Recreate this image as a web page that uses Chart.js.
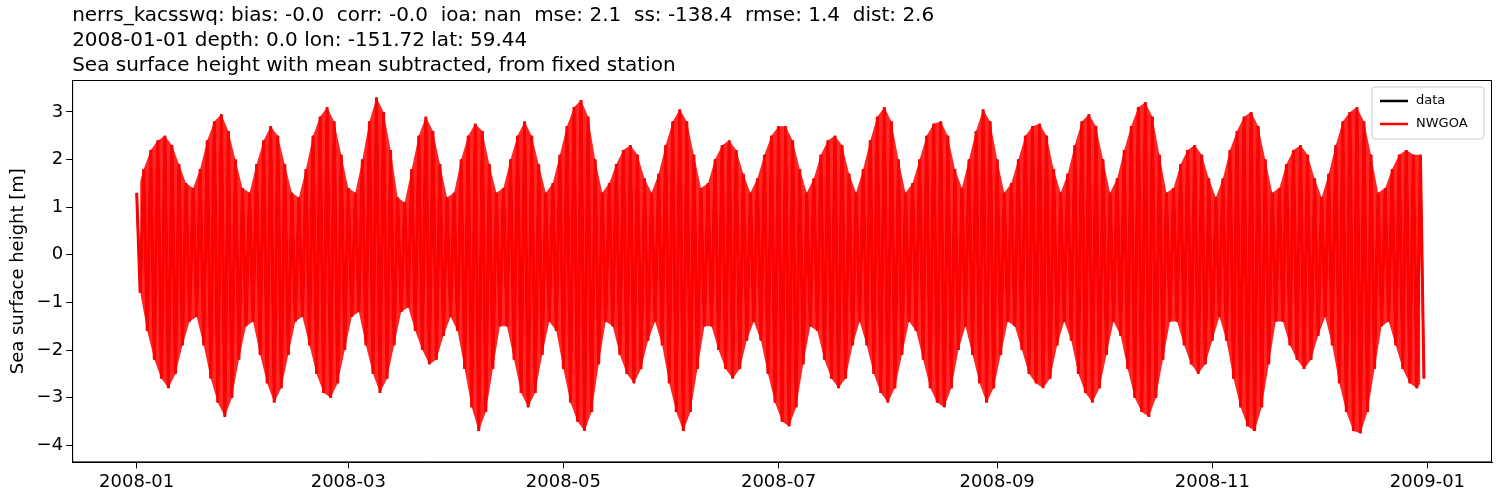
<!DOCTYPE html>
<html><head><meta charset="utf-8">
<script src="https://cdn.jsdelivr.net/npm/chart.js@4"></script>
<style>html,body{margin:0;padding:0;background:#fff}#w{width:1500px;height:500px}</style>
</head><body><div id="w"><canvas id="c"></canvas></div>
<script>
// Daily tidal extremes: highs on even days (0,2,4,...), lows on odd days (1,3,5,...), 2008 day-of-year
const highs = [1.3,1.8,2.2,2.4,2.5,
2.3,1.9,1.5,1.4,1.8,2.4,2.8,2.95,
2.6,2.0,1.4,1.3,1.9,2.4,2.7,
2.5,1.9,1.3,1.2,1.8,2.5,2.9,3.1,
2.8,2.1,1.4,1.3,2.0,2.8,3.3,
3.0,2.2,1.2,1.1,1.8,2.5,2.9,
2.6,1.9,1.2,1.3,2.0,2.5,2.75,
2.6,1.9,1.3,1.4,2.0,2.5,2.8,
2.5,1.9,1.3,1.5,2.1,2.7,3.1,3.25,
2.9,2.0,1.3,1.5,1.9,2.2,2.3,
2.1,1.6,1.3,1.7,2.3,2.8,3.05,
2.8,2.1,1.4,1.5,2.0,2.3,2.4,
2.2,1.7,1.3,1.6,2.1,2.5,2.7,2.7,
2.4,1.8,1.3,1.6,2.1,2.4,2.5,
2.3,1.7,1.3,1.8,2.4,2.9,3.1,
2.8,2.0,1.3,1.5,2.0,2.5,2.75,2.8,
2.5,1.8,1.4,2.0,2.6,3.05,
2.8,2.0,1.3,1.5,2.0,2.5,2.7,2.75,
2.5,1.8,1.3,1.7,2.3,2.8,2.95,
2.7,2.0,1.3,1.6,2.2,2.7,3.1,3.2,
2.9,2.1,1.3,1.4,1.9,2.2,2.3,
2.1,1.6,1.2,1.6,2.2,2.6,2.9,3.0,
2.7,2.0,1.3,1.4,1.9,2.2,2.3,
2.1,1.6,1.2,1.7,2.3,2.8,3.0,3.1,
2.8,2.1,1.3,1.4,1.8,2.1,2.2,2.1,2.1];
const lows = [-0.8,-1.6,-2.2,-2.6,-2.8,
-2.5,-1.9,-1.4,-1.3,-1.9,-2.6,-3.1,-3.4,
-3.0,-2.2,-1.5,-1.4,-2.1,-2.7,-3.1,
-2.8,-2.1,-1.4,-1.3,-1.9,-2.5,-2.9,-3.0,
-2.7,-2.0,-1.3,-1.2,-1.9,-2.5,-2.9,
-2.6,-1.9,-1.2,-1.1,-1.6,-2.0,-2.3,
-2.2,-1.7,-1.3,-1.6,-2.4,-3.2,-3.7,
-3.3,-2.4,-1.5,-1.5,-2.2,-2.9,-3.2,
-2.9,-2.1,-1.4,-1.6,-2.4,-3.1,-3.5,-3.7,
-3.3,-2.3,-1.4,-1.5,-2.1,-2.5,-2.7,
-2.4,-1.8,-1.4,-1.9,-2.7,-3.3,-3.7,
-3.3,-2.4,-1.5,-1.5,-2.0,-2.4,-2.6,
-2.4,-1.8,-1.4,-1.8,-2.5,-3.1,-3.5,-3.6,
-3.2,-2.3,-1.5,-1.6,-2.2,-2.6,-2.8,
-2.6,-1.9,-1.4,-1.9,-2.5,-2.9,-3.1,
-2.8,-2.1,-1.4,-1.6,-2.2,-2.8,-3.1,-3.2,
-2.8,-2.0,-1.5,-2.1,-2.7,-3.1,
-2.8,-2.1,-1.4,-1.5,-2.0,-2.5,-2.7,-2.8,
-2.6,-1.9,-1.4,-1.8,-2.5,-2.9,-3.1,
-2.8,-2.1,-1.4,-1.7,-2.4,-3.0,-3.3,-3.4,
-3.0,-2.2,-1.4,-1.4,-1.9,-2.3,-2.5,
-2.3,-1.8,-1.3,-1.8,-2.6,-3.2,-3.6,-3.7,
-3.2,-2.3,-1.4,-1.4,-1.9,-2.2,-2.4,
-2.2,-1.7,-1.3,-1.9,-2.7,-3.3,-3.7,-3.75,
-3.3,-2.4,-1.5,-1.4,-1.9,-2.4,-2.7,-2.8,-2.6];
const tickDays = [0,60,121,182,244,305,366];
const tickLabels = ['2008-01','2008-03','2008-05','2008-07','2008-09','2008-11','2009-01'];
const yTicks = [-4,-3,-2,-1,0,1,2,3];
const titleLines = ['nerrs_kacsswq: bias: -0.0  corr: -0.0  ioa: nan  mse: 2.1  ss: -138.4  rmse: 1.4  dist: 2.6',
 '2008-01-01 depth: 0.0 lon: -151.72 lat: 59.44',
 'Sea surface height with mean subtracted, from fixed station'];

const pts = [];
for (let i = 0; i < highs.length; i++) {
  pts.push({x: 2*i, y: highs[i]});
  if (i < lows.length) pts.push({x: 2*i+1, y: lows[i]});
}
const hiPts = highs.map((v,i)=>({x:2*i, y:v}));
const loPts = lows.map((v,i)=>({x:2*i+1, y:v}));
const F = 'DejaVu Sans';
const deco = {id:'deco', afterDraw(ch){
  const c = ch.ctx, a = ch.chartArea;
  c.save();
  c.strokeStyle='#000'; c.lineWidth=1; c.strokeRect(a.left+0.5,a.top+0.5,a.right-a.left-1,a.bottom-a.top-1);
  c.fillStyle='#000'; c.font='20px '+F; c.textBaseline='alphabetic';
  titleLines.forEach((t,k)=>c.fillText(t, a.left, 21+k*25));
  const w=112,h=52,x=a.right-w-8,y=a.top+7;
  c.fillStyle='rgba(255,255,255,0.8)'; c.strokeStyle='#ccc';
  c.beginPath(); c.roundRect(x,y,w,h,3); c.fill(); c.stroke();
  const items=[['data','#000'],['NWGOA','#f00']];
  c.font='13px '+F; c.textBaseline='middle';
  items.forEach((it,k)=>{const yy=y+14+k*23; c.strokeStyle=it[1]; c.lineWidth=2.5;
    c.beginPath(); c.moveTo(x+8,yy); c.lineTo(x+36,yy); c.stroke(); c.fillStyle='#000'; c.fillText(it[0],x+44,yy);});
  c.restore();
}};
const minus = v => String(v).replace('-','\u2212');
new Chart(document.getElementById('c'), {
  type:'line',
  data:{datasets:[
    {label:'band-lo', data:loPts, borderWidth:0, pointRadius:0, fill:false, order:4},
    {label:'band-hi', data:hiPts, borderWidth:0, pointRadius:0, backgroundColor:'rgba(255,0,0,0.85)', fill:'-1', order:3},
    {label:'data', data:pts, borderColor:'#000', borderWidth:2, pointRadius:0, order:2},
    {label:'NWGOA', data:pts, borderColor:'#f00', borderWidth:3, pointRadius:0, order:1}
  ]},
  options:{responsive:true, maintainAspectRatio:false, animation:false,
    layout:{padding:{left:4,right:8,top:80,bottom:4}},
    plugins:{legend:{display:false}, tooltip:{enabled:false}, title:{display:false}},
    scales:{
      x:{type:'linear', min:-18.3, max:384.3, grid:{drawOnChartArea:false, color:'#000', tickLength:6}, border:{color:'#000'},
        afterBuildTicks(s){s.ticks=tickDays.map(v=>({value:v}));},
        ticks:{color:'#000', font:{family:F,size:18}, autoSkip:false, maxRotation:0,
          callback:(v)=>{const i=tickDays.indexOf(v);return i>=0?tickLabels[i]:'';}}},
      y:{min:-4.36, max:3.67, grid:{drawOnChartArea:false, color:'#000', tickLength:6}, border:{color:'#000'},
        afterBuildTicks(s){s.ticks=yTicks.map(v=>({value:v}));},
        title:{display:true, text:'Sea surface height [m]', color:'#000', font:{family:F,size:18}},
        ticks:{color:'#000', font:{family:F,size:18}, callback:v=>minus(v)}}
    }},
  plugins:[deco]
});
</script></body></html>
